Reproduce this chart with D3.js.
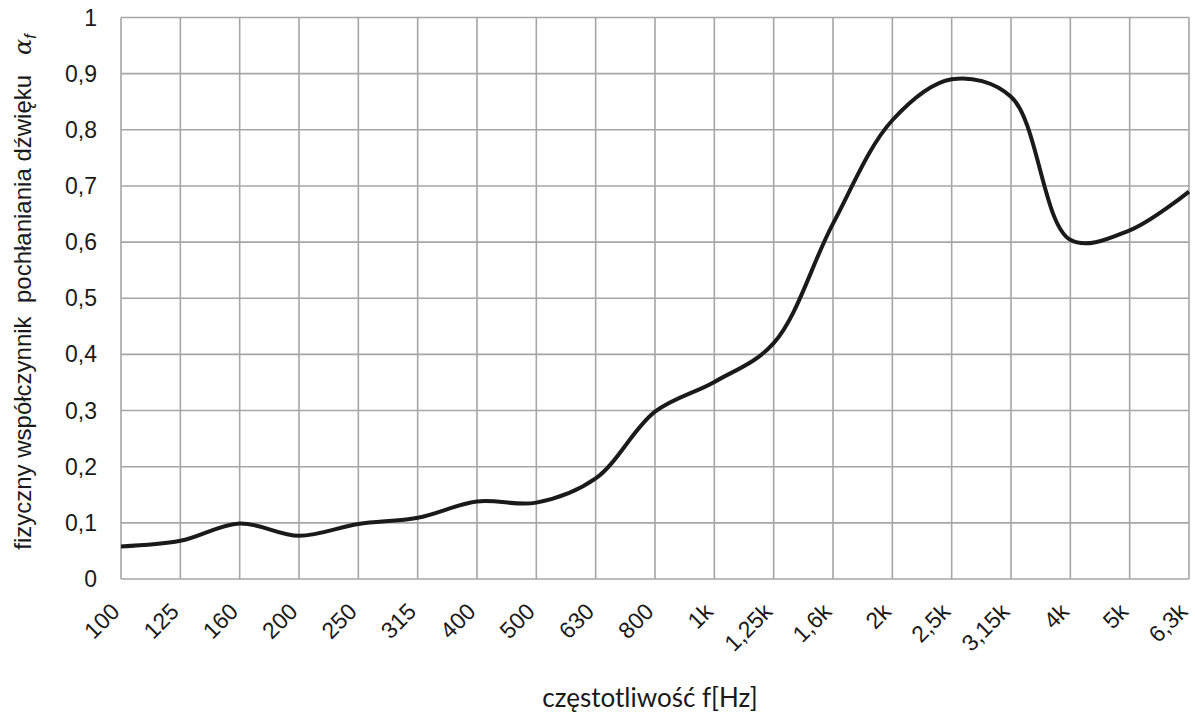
<!DOCTYPE html>
<html>
<head>
<meta charset="utf-8">
<script src="https://cdn.jsdelivr.net/npm/d3@7"></script>
<style>
  body { margin: 0; background: #fff; }
  svg { display: block; }
</style>
</head>
<body>
<div id="chart"></div>
<script>
// absorption coefficient vs third-octave frequency
const frequencies = ["100", "125", "160", "200", "250", "315", "400", "500", "630", "800",
  "1k", "1,25k", "1,6k", "2k", "2,5k", "3,15k", "4k", "5k", "6,3k"];
const alphaValues = [0.058, 0.068, 0.099, 0.077, 0.098, 0.109, 0.138, 0.136, 0.179, 0.298,
  0.351, 0.42, 0.633, 0.817, 0.89, 0.859, 0.604, 0.621, 0.690];
const yTicks = [0, 0.1, 0.2, 0.3, 0.4, 0.5, 0.6, 0.7, 0.8, 0.9, 1];

const width = 1195, height = 715;
const margin = { top: 17.5, right: 6, bottom: 136, left: 121 };
const gridColor = "#a6a6a6";
const sans = "Arial, 'Liberation Sans', sans-serif";

const data = frequencies.map((f, i) => ({ f, v: alphaValues[i] }));

const svg = d3.select("#chart").append("svg")
  .attr("width", width)
  .attr("height", height);

const x = d3.scalePoint()
  .domain(frequencies)
  .range([margin.left, width - margin.right]);

const y = d3.scaleLinear()
  .domain([0, 1])
  .range([height - margin.bottom, margin.top]);

const fmt = d => d === 0 ? "0" : d === 1 ? "1" : d3.format(".1f")(d).replace(".", ",");

// grid
svg.append("g")
  .selectAll("line")
  .data(yTicks)
  .join("line")
  .attr("x1", margin.left).attr("x2", width - margin.right)
  .attr("y1", d => y(d)).attr("y2", d => y(d))
  .attr("stroke", gridColor)
  .attr("stroke-width", 1.6);

svg.append("g")
  .selectAll("line")
  .data(frequencies)
  .join("line")
  .attr("x1", d => x(d)).attr("x2", d => x(d))
  .attr("y1", y(0)).attr("y2", y(1))
  .attr("stroke", gridColor)
  .attr("stroke-width", 1.6);

// y tick labels
svg.append("g")
  .selectAll("text")
  .data(yTicks)
  .join("text")
  .attr("x", 97)
  .attr("y", d => y(d) + 8)
  .attr("text-anchor", "end")
  .style("font-family", sans)
  .style("font-size", "23px")
  .style("fill", "#1a1a1a")
  .text(fmt);

// x tick labels, rotated
svg.append("g")
  .selectAll("text")
  .data(frequencies)
  .join("text")
  .attr("text-anchor", "end")
  .attr("transform", d => `translate(${x(d)}, ${y(0) + 34}) rotate(-45)`)
  .style("font-family", sans)
  .style("font-size", "23px")
  .style("fill", "#1a1a1a")
  .text(d => d);

// curve
const line = d3.line()
  .x(d => x(d.f))
  .y(d => y(d.v))
  .curve(d3.curveCatmullRom.alpha(0.5));

svg.append("path")
  .datum(data)
  .attr("fill", "none")
  .attr("stroke", "#1a1a1a")
  .attr("stroke-width", 4)
  .attr("stroke-linejoin", "round")
  .attr("d", line);

// axis titles
svg.append("text")
  .attr("x", 650)
  .attr("y", 707)
  .attr("text-anchor", "middle")
  .style("font-family", "Lato, 'Open Sans', sans-serif")
  .style("font-size", "26px")
  .style("fill", "#1a1a1a")
  .text("częstotliwość f[Hz]");

const yTitle = svg.append("text")
  .attr("transform", "translate(31, 292) rotate(-90)")
  .attr("text-anchor", "middle")
  .style("font-family", sans)
  .style("font-size", "24px")
  .style("fill", "#1a1a1a")
  .style("white-space", "pre");

yTitle.append("tspan").text("fizyczny współczynnik  pochłaniania dźwięku   ");
yTitle.append("tspan").style("font-style", "italic").style("font-family", "'DejaVu Serif', serif").text("α");
yTitle.append("tspan")
  .style("font-style", "italic")
  .style("font-size", "16px")
  .attr("dy", 5)
  .text("f");
</script>
</body>
</html>
